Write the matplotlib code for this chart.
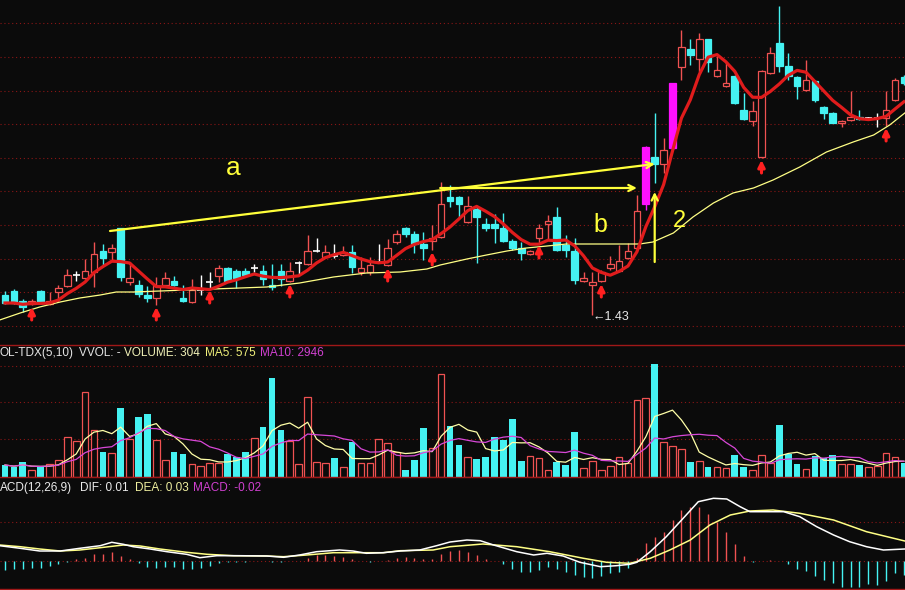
import matplotlib
matplotlib.use("Agg")
import matplotlib.pyplot as plt
from matplotlib.lines import Line2D
import numpy as np
import pandas as pd

plt.rcParams['font.family'] = ['Liberation Sans', 'DejaVu Sans']

# ---- daily K-line (102 days, last one cut by the edge) ----
open_ = [1.450, 1.454, 1.444, 1.441, 1.454, 1.441, 1.453, 1.459, 1.470, 1.467,
         1.473, 1.494, 1.493, 1.517, 1.463, 1.460, 1.450, 1.447, 1.460, 1.464,
         1.447, 1.443, 1.455, 1.463, 1.469, 1.477, 1.474, 1.474, 1.477, 1.474,
         1.460, 1.474, 1.464, 1.482, 1.481, 1.494, 1.488, 1.489, 1.490, 1.493,
         1.473, 1.473, 1.483, 1.480, 1.503, 1.517, 1.511, 1.501, 1.504, 1.508,
         1.548, 1.548, 1.523, 1.536, 1.521, 1.521, 1.517, 1.504, 1.497, 1.491,
         1.507, 1.521, 1.528, 1.500, 1.494, 1.464, 1.460, 1.464, 1.477, 1.474,
         1.487, 1.497, 1.541, 1.588, 1.581, 1.597, 1.678, 1.696, 1.686, 1.706,
         1.669, 1.659, 1.669, 1.635, 1.624, 1.588, 1.672, 1.702, 1.679, 1.668,
         1.655, 1.664, 1.638, 1.632, 1.622, 1.625, 1.628, 1.627, 1.627, 1.627,
         1.645, 1.668]
high = [1.454, 1.456, 1.446, 1.446, 1.455, 1.453, 1.460, 1.476, 1.474, 1.486,
        1.503, 1.501, 1.501, 1.517, 1.483, 1.465, 1.459, 1.468, 1.473, 1.469,
        1.460, 1.466, 1.470, 1.473, 1.480, 1.478, 1.476, 1.477, 1.481, 1.480,
        1.481, 1.481, 1.483, 1.484, 1.510, 1.507, 1.500, 1.501, 1.499, 1.500,
        1.488, 1.488, 1.501, 1.506, 1.515, 1.518, 1.514, 1.513, 1.520, 1.563,
        1.560, 1.549, 1.549, 1.538, 1.527, 1.531, 1.532, 1.506, 1.503, 1.495,
        1.521, 1.530, 1.538, 1.510, 1.507, 1.473, 1.473, 1.475, 1.489, 1.500,
        1.502, 1.550, 1.599, 1.632, 1.607, 1.662, 1.715, 1.706, 1.712, 1.706,
        1.689, 1.683, 1.670, 1.652, 1.644, 1.675, 1.698, 1.739, 1.692, 1.669,
        1.685, 1.665, 1.639, 1.633, 1.625, 1.654, 1.635, 1.628, 1.632, 1.654,
        1.667, 1.670]
low = [1.441, 1.441, 1.433, 1.440, 1.441, 1.440, 1.443, 1.458, 1.464, 1.466,
       1.458, 1.480, 1.485, 1.464, 1.460, 1.448, 1.443, 1.440, 1.459, 1.459,
       1.443, 1.442, 1.450, 1.457, 1.463, 1.463, 1.457, 1.469, 1.473, 1.460,
       1.455, 1.459, 1.463, 1.470, 1.480, 1.493, 1.487, 1.487, 1.489, 1.472,
       1.470, 1.470, 1.482, 1.479, 1.501, 1.508, 1.492, 1.485, 1.495, 1.507,
       1.538, 1.528, 1.522, 1.482, 1.514, 1.502, 1.503, 1.495, 1.485, 1.490,
       1.502, 1.505, 1.494, 1.488, 1.461, 1.463, 1.430, 1.463, 1.475, 1.473,
       1.486, 1.496, 1.535, 1.562, 1.572, 1.596, 1.665, 1.680, 1.673, 1.673,
       1.668, 1.658, 1.641, 1.625, 1.619, 1.587, 1.671, 1.673, 1.665, 1.646,
       1.654, 1.643, 1.626, 1.622, 1.618, 1.624, 1.625, 1.625, 1.618, 1.619,
       1.644, 1.660]
close = [1.442, 1.442, 1.438, 1.444, 1.442, 1.444, 1.457, 1.470, 1.470, 1.474,
         1.491, 1.487, 1.497, 1.468, 1.467, 1.451, 1.447, 1.459, 1.467, 1.460,
         1.444, 1.455, 1.455, 1.463, 1.477, 1.464, 1.467, 1.470, 1.477, 1.466,
         1.458, 1.466, 1.474, 1.482, 1.494, 1.494, 1.493, 1.489, 1.493, 1.478,
         1.477, 1.480, 1.483, 1.497, 1.511, 1.511, 1.501, 1.497, 1.507, 1.541,
         1.544, 1.541, 1.539, 1.528, 1.517, 1.517, 1.504, 1.497, 1.492, 1.494,
         1.517, 1.524, 1.495, 1.495, 1.465, 1.467, 1.463, 1.473, 1.481, 1.484,
         1.494, 1.534, 1.598, 1.581, 1.595, 1.662, 1.698, 1.690, 1.706, 1.683,
         1.675, 1.662, 1.642, 1.626, 1.634, 1.674, 1.692, 1.679, 1.669, 1.659,
         1.665, 1.645, 1.632, 1.622, 1.624, 1.628, 1.626, 1.627, 1.627, 1.635,
         1.665, 1.662]
volume = [360, 290, 440, 210, 290, 380, 510, 1190, 1080, 2540,
          1410, 760, 710, 2060, 1140, 1810, 1890, 1110, 510, 760,
          690, 380, 330, 430, 430, 680, 590, 750, 1160, 1490,
          2960, 1410, 1080, 380, 2390, 460, 410, 560, 310, 1040,
          430, 410, 1130, 1010, 760, 210, 510, 1460, 860, 3080,
          1540, 960, 610, 540, 610, 1190, 1110, 1730, 480, 630,
          560, 210, 460, 360, 1340, 260, 480, 210, 330, 590,
          430, 2310, 2360, 3390, 1040, 930, 840, 450, 480, 310,
          310, 260, 660, 310, 210, 660, 410, 1560, 690, 390,
          230, 640, 560, 660, 380, 380, 360, 290, 330, 730,
          610, 410]
highlight = [72, 75]                               # magenta bars
signals = [3, 17, 23, 32, 43, 48, 60, 67, 85, 99]  # red up-arrows

# slow average (yellow) as drawn
ma_long_x = [-0.6, 1.7, 3.9, 6.2, 8.4, 10.7, 12.5, 14.4, 17.4, 20.4,
             23.4, 26.4, 29.4, 33.1, 36.9, 40.6, 44.4, 47.4, 48.9, 51.9,
             54.1, 56.4, 58.6, 60.9, 63.1, 66.9, 71.3, 72.8, 75.1, 77.3,
             79.6, 81.8, 84.1, 86.3, 89.3, 92.3, 95.3, 97.6, 99.4, 101.1]
ma_long = [1.425, 1.432, 1.438, 1.443, 1.447, 1.450, 1.453, 1.453, 1.454, 1.455,
           1.456, 1.457, 1.458, 1.462, 1.468, 1.472, 1.473, 1.476, 1.480, 1.486,
           1.490, 1.494, 1.497, 1.499, 1.501, 1.501, 1.501, 1.503, 1.512, 1.528,
           1.542, 1.552, 1.557, 1.565, 1.578, 1.593, 1.603, 1.610, 1.620, 1.632]

# MACD(12,26,9)
macd = [-0.0090, -0.0083, -0.0083, -0.0073, -0.0067, -0.0050, -0.0033, -0.0007, 0.0020, 0.0033,
        0.0070, 0.0070, 0.0093, 0.0050, 0.0017, -0.0023, -0.0057, -0.0067, -0.0057, -0.0057,
        -0.0080, -0.0083, -0.0067, -0.0047, -0.0023, -0.0013, -0.0010, -0.0005, 0.0003, -0.0003,
        -0.0013, -0.0007, -0.0003, 0.0005, 0.0033, 0.0060, 0.0060, 0.0053, 0.0043, 0.0017,
        0.0003, -0.0007, -0.0003, 0.0007, 0.0027, 0.0043, 0.0033, 0.0017, 0.0020, 0.0070,
        0.0100, 0.0110, 0.0087, 0.0060, 0.0020, 0.0003, -0.0033, -0.0080, -0.0107, -0.0113,
        -0.0090, -0.0057, -0.0080, -0.0107, -0.0140, -0.0163, -0.0167, -0.0150, -0.0123, -0.0107,
        -0.0073, 0.0033, 0.0177, 0.0243, 0.0287, 0.0410, 0.0510, 0.0537, 0.0543, 0.0467,
        0.0387, 0.0287, 0.0170, 0.0050, -0.0013, -0.0003, 0.0007, 0.0003, -0.0033, -0.0083,
        -0.0100, -0.0147, -0.0190, -0.0223, -0.0257, -0.0257, -0.0257, -0.0233, -0.0240, -0.0200,
        -0.0123, -0.0140]
dif_x = [-0.6, 1.7, 3.9, 6.2, 8.4, 10.7, 12.0, 13.3, 14.4, 16.3,
         18.2, 20.4, 21.9, 23.8, 26.4, 29.4, 31.3, 33.1, 35.0, 37.6,
         39.1, 40.6, 42.5, 44.4, 46.6, 48.5, 50.0, 51.9, 53.4, 54.9,
         57.5, 59.4, 60.9, 62.7, 64.6, 66.9, 68.7, 70.2, 71.0, 72.5,
         74.3, 76.2, 77.9, 79.6, 81.1, 82.6, 83.7, 85.6, 87.5, 89.3,
         91.2, 93.1, 94.9, 96.8, 98.7, 101.1]
dif = [0.0153, 0.0127, 0.0100, 0.0100, 0.0127, 0.0153, 0.0187, 0.0167, 0.0143, 0.0120,
       0.0093, 0.0067, 0.0033, 0.0053, 0.0053, 0.0050, 0.0037, 0.0060, 0.0093, 0.0110,
       0.0100, 0.0077, 0.0083, 0.0100, 0.0110, 0.0153, 0.0190, 0.0210, 0.0203, 0.0160,
       0.0093, 0.0060, 0.0077, 0.0050, -0.0013, -0.0057, -0.0047, -0.0033, -0.0013, 0.0093,
       0.0243, 0.0427, 0.0593, 0.0627, 0.0620, 0.0543, 0.0493, 0.0493, 0.0493, 0.0443,
       0.0343, 0.0260, 0.0193, 0.0143, 0.0110, 0.0120]
dea_x = [-0.6, 1.7, 3.9, 6.2, 8.4, 10.7, 13.3, 15.2, 17.4, 20.4,
         22.7, 25.7, 29.4, 31.3, 33.9, 36.9, 39.9, 42.5, 44.4, 48.1,
         50.0, 53.7, 57.5, 61.2, 65.0, 67.6, 70.2, 72.5, 74.7, 77.0,
         79.2, 81.5, 83.7, 86.3, 89.3, 93.1, 96.8, 101.1]
dea = [0.0160, 0.0143, 0.0120, 0.0100, 0.0110, 0.0133, 0.0160, 0.0150, 0.0120, 0.0087,
       0.0067, 0.0053, 0.0050, 0.0043, 0.0060, 0.0083, 0.0083, 0.0083, 0.0103, 0.0110,
       0.0143, 0.0170, 0.0143, 0.0093, 0.0027, -0.0013, -0.0023, 0.0027, 0.0110, 0.0210,
       0.0360, 0.0460, 0.0500, 0.0510, 0.0477, 0.0410, 0.0293, 0.0200]

# hand-drawn marks (bar index, price)
line_a = [(11.8, 1.514), (73.0, 1.581)]
line_b = [(48.9, 1.557), (71.0, 1.557)]
line_2 = [(73.0, 1.483), (73.0, 1.553)]
labels = [('a', 25.6, 1.570, 19), ('b', 66.9, 1.513, 18), ('2', 75.8, 1.518, 17)]

vol_title = [(0, 'OL-TDX(5,10)', '#e6e6e6'), (79, 'VVOL: -', '#e6e6e6'),
             (124, 'VOLUME: 304', '#f2f2b8'), (205, 'MA5: 575', '#f0f07a'),
             (260, 'MA10: 2946', '#d040d0')]
macd_title = [(0, 'ACD(12,26,9)', '#ececec'), (80, 'DIF: 0.01', '#ececec'),
              (135, 'DEA: 0.03', '#f0f0a0'), (193, 'MACD: -0.02', '#d040d0')]

# ---- styling ----
BG = '#0b0b0b'
RED = '#f05252'
CYAN = '#45f2f2'
MAG = '#ff10ff'
YEL = '#ffff3a'
GRID = dict(color='#8a1616', lw=0.8, ls=(0, (1, 2.5)), zorder=0)
W = 0.76

o = np.array(open_); h = np.array(high); l = np.array(low); c = np.array(close)
n = len(c)
x = np.arange(n)
prev = np.r_[c[0], c[:-1]]
doji = c == o
up = (c > o) | (doji & (c >= prev))
ma5 = pd.Series(c).rolling(5, min_periods=1).mean()
vol = np.array(volume)
vma5 = pd.Series(vol).rolling(5, min_periods=1).mean()
vma10 = pd.Series(vol).rolling(10, min_periods=1).mean()

fig = plt.figure(figsize=(9.05, 5.9), dpi=100, facecolor=BG)
ax1 = fig.add_axes([0, 245.5 / 590, 1, 344.5 / 590])
ax2 = fig.add_axes([0, 113 / 590, 1, 132.5 / 590])
ax3 = fig.add_axes([0, 0, 1, 113 / 590])
for ax in (ax1, ax2, ax3):
    ax.set_facecolor(BG)
    ax.set_xlim(-5 / 8.9, 900 / 8.9)
    ax.set_xticks([]); ax.set_yticks([])
    for s in ax.spines.values():
        s.set_visible(False)

# price panel
ax1.set_ylim(1.4005, 1.745)
for g in 1.7216 - 0.0336 * np.arange(10):
    ax1.axhline(g, **GRID)
for i in range(n):
    if i in highlight:
        col, face = MAG, MAG
    elif doji[i]:
        col, face = 'white', None
    elif c[i] > o[i]:
        col, face = RED, BG
    else:
        col, face = CYAN, CYAN
    ax1.vlines(i, l[i], h[i], color=col, lw=1, zorder=2)
    if face is None:
        ax1.hlines(c[i], i - W / 2, i + W / 2, color=col, lw=1.2, zorder=3)
    else:
        ax1.bar(i, abs(c[i] - o[i]), bottom=min(o[i], c[i]), width=W,
                facecolor=face, edgecolor=col, lw=0.9, zorder=3)
ax1.plot(ma_long_x, ma_long, color='#ffff85', lw=0.9, zorder=4)
ax1.plot(x, ma5, color='#e01c1c', lw=2.3, zorder=5)
for i in signals:
    ax1.annotate('', xy=(i, l[i] - 0.002), xytext=(i, l[i] - 0.015),
                 arrowprops=dict(arrowstyle='-|>', color='#ff2020', lw=2.2,
                                 mutation_scale=10, shrinkA=0, shrinkB=0), zorder=6)
for seg in (line_a, line_b, line_2):
    ax1.annotate('', xy=seg[1], xytext=seg[0],
                 arrowprops=dict(arrowstyle='->', color=YEL, lw=1.6,
                                 mutation_scale=11, shrinkA=0, shrinkB=0), zorder=7)
for s, xx, yy, fs in labels:
    ax1.text(xx, yy, s, color=YEL, fontsize=fs, ha='center', va='baseline', zorder=8)
ax1.text(66, l[66] - 0.005, f'\u2190{l[66]:.2f}', color='#e8e8e8', fontsize=9,
         ha='left', va='baseline', zorder=8)

# volume panel
ax2.set_ylim(0, 3975)
for g in [1150, 2250, 3330]:
    ax2.axhline(g, **GRID)
ax2.bar(x[up], vol[up], width=W, facecolor=BG, edgecolor=RED, lw=0.9, zorder=2)
ax2.bar(x[~up], vol[~up], width=W, color=CYAN, zorder=2)
ax2.plot(x, vma5, color='#ffffa8', lw=0.9, zorder=3)
ax2.plot(x, vma10, color='#d848d8', lw=0.9, zorder=3)

# MACD panel
ax3.set_ylim(-0.029, 0.084)
ax3.axhline(0.0393, **GRID)
ax3.axhline(0, **GRID)
m = np.array(macd)
ax3.vlines(x[m >= 0], 0, m[m >= 0], color=RED, lw=1, zorder=2)
ax3.vlines(x[m < 0], 0, m[m < 0], color=CYAN, lw=1, zorder=2)
ax3.plot(dea_x, dea, color='#ffff85', lw=1.1, zorder=3)
ax3.plot(dif_x, dif, color='white', lw=1.1, zorder=4)

# separators and titles
for yy in (344.5, 477, 589):
    fig.add_artist(Line2D([0, 1], [1 - yy / 590] * 2, color='#a01818', lw=1))
for px, s, col in vol_title:
    fig.text(px / 905, 1 - 352.7 / 590, s, color=col, fontsize=8.5, va='center')
for px, s, col in macd_title:
    fig.text(px / 905, 1 - 487.7 / 590, s, color=col, fontsize=8.5, va='center')

fig.savefig('out.png', dpi=100, facecolor=BG)
